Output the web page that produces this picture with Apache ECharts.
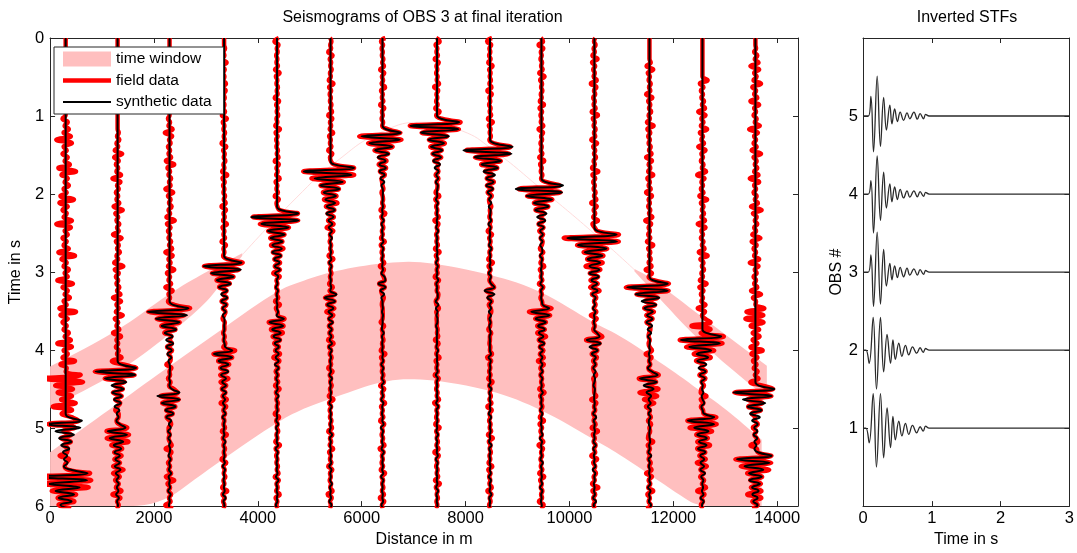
<!DOCTYPE html>
<html><head><meta charset="utf-8">
<script src="https://cdn.jsdelivr.net/npm/echarts@6/dist/echarts.min.js"></script>
<style>html,body{margin:0;padding:0;background:#fff}#c{width:1077px;height:553px}</style>
</head><body><div id="c"></div>
<script>
// ---------- seismogram data (left panel) ----------
const offsets   = [300,1300,2300,3350,4370,5400,6400,7450,8470,9460,10480,11540,12560,13580];
const ev1Time   = [4.86,4.18,3.44,2.84,2.21,1.61,1.16,1.04,1.34,1.84,2.46,3.12,3.77,4.47];
const ev1Syn    = [380,430,450,420,480,500,430,520,520,500,500,450,430,440];
const ev1Field  = [400,450,480,430,460,520,470,540,500,480,530,470,450,430];
const ev2Time   = [5.55,4.93,4.48,3.96,3.56,3.26,3.06,3.28,3.16,3.4,3.78,4.28,4.8,5.33];
const ev2Syn    = [520,200,260,170,140,100,80,40,110,170,160,190,250,330];
const ev2Field  = [540,220,270,180,150,90,70,30,100,180,190,230,280,350];
const ev3Time   = [4.28,2.3,1.8,2.0,2.0,2.0,2.0,2.0,2.0,2.0,2.0,4.45,3.62,3.42];
const ev3Field  = [270,0,0,0,0,0,0,0,0,0,0,120,220,160];
const muteEnd   = [1.0,1.2,1.0,0.1,0,0,0,0,0,0,0,0.3,0.5,0.1];
const fieldNoise= [200,110,100,60,55,55,55,55,55,60,75,80,100,120];
const synNoise  = [35,35,35,30,30,30,30,25,30,30,35,35,40,40];
const wavelet   = [0.15,0.85,-1.0,0.8,-0.6,0.45,-0.35,0.3,-0.25,0.2,-0.18,0.16,-0.14,0.12,-0.1,0.09,-0.07,0.06,-0.05,0.04];
const noise     = [0.2,-0.3,0.9,-0.5,0.1,-0.2,0.3,-0.8,0.6,-0.2,0.1,-0.3,0.2,-0.1,0.7,-1.0,0.4,-0.2,0.1,-0.3,0.2,-0.6,0.9,-0.3,0.2,-0.1,0.3,-0.2,0.5,-0.9,0.6,-0.2,0.1,-0.3,0.2,-0.1,0.4,-0.7,1.0,-0.4,0.2,-0.1,0.3,-0.2,0.1,-0.5,0.8,-0.6,0.2,-0.3,0.1,-0.2,0.6,-0.9,0.5,-0.1,0.2,-0.3,0.1,-0.2,0.3,-0.7,0.9,-0.4,0.1,-0.2,0.3,-0.1,0.2,-0.8,0.7,-0.3,0.2,-0.1,0.4,-0.2,0.1,-0.6,1.0,-0.5,0.2,-0.3,0.1,-0.2,0.3,-0.1,0.5,-0.8,0.6,-0.2];
const sampleDt  = 0.045;
const sampleN   = 134;

// ---------- time-window bands ----------
const bandALX   = [0,1300,2300,3000,3350,3700];
const bandALTop = [4.21,3.76,3.27,3.0,2.88,2.76];
const bandALBot = [4.74,4.3,3.8,3.4,3.1,2.79];
const bandARX   = [11250,11540,12560,13580,13800];
const bandARTop = [2.96,3.06,3.58,4.09,4.2];
const bandARBot = [2.99,3.2,3.93,4.5,4.6];
const bandBX    = [0,1000,2100,3000,4350,4870,5500,6400,7200,8500,9464,10480,11000,12145,12465,13000,13700];
const bandBTop  = [5.31,4.83,4.3,3.88,3.24,3.11,2.98,2.88,2.86,3.03,3.24,3.66,3.82,4.34,4.5,4.75,5.15];
const bandBBot  = [6,6,6,5.55,4.93,4.75,4.6,4.39,4.36,4.51,4.76,5.15,5.35,5.87,6,6,6];
const faintX    = [3700,4738,5500,6400,7200,7930,8500,9520,10500,11250];
const faintT    = [2.78,2.05,1.59,1.2,1.08,1.19,1.42,1.97,2.52,2.97];

// ---------- STFs (right panel) ----------
const stfTimesA = [0,0.077,0.115,0.153,0.206,0.254,0.30,0.34,0.39,0.42,0.46,0.50,0.54,0.59,0.64,0.68,0.74,0.79,0.83,0.88,0.91,0.96,3.0];
const stfTimesB = [0,0.043,0.09,0.148,0.196,0.254,0.30,0.35,0.40,0.435,0.47,0.52,0.565,0.617,0.665,0.72,0.78,0.83,0.875,0.91,0.96,3.0];
const stf1 = [0,0,-0.19,0.44,-0.5,0.44,-0.38,0.26,-0.25,0.15,-0.15,0.09,-0.1,0.06,-0.08,0.034,-0.06,0.017,-0.04,0.025,0,0];
const stf2 = [0,0,-0.17,0.42,-0.5,0.42,-0.28,0.2,-0.17,0.13,-0.12,0.09,-0.08,0.06,-0.06,0.04,-0.04,0.03,-0.03,0.02,0,0];
const stf3 = [0,0,0.22,-0.44,0.51,-0.41,0.29,-0.18,0.11,-0.1,0.08,-0.07,0.06,-0.06,0.05,-0.04,0.04,-0.04,0.03,-0.03,0.02,0,0];
const stf4 = [0,0,0.17,-0.5,0.49,-0.34,0.28,-0.18,0.13,-0.1,0.09,-0.07,0.06,-0.05,0.04,-0.04,0.04,-0.035,0.03,-0.03,0.02,0,0];
const stf5 = [0,0,0.25,-0.46,0.51,-0.39,0.24,-0.18,0.14,-0.1,0.09,-0.07,0.05,-0.055,0.04,-0.035,0.05,-0.04,0.03,-0.035,0.02,0,0];

const xTicksL = [0,2000,4000,6000,8000,10000,12000,14000];
const yTicksL = [0,1,2,3,4,5,6];
const xTicksR = [0,1,2,3];
const yTicksR = [1,2,3,4,5];

// ---------- build ----------
const FONT = 'Liberation Sans, Arial, Helvetica, sans-serif';
const AX = '#262626';
const TICKFS = 16.5, NAMEFS = 16;
function trace(i, field) {
  const evs = [[ev1Time[i], field ? ev1Field[i] : ev1Syn[i]], [ev2Time[i], field ? ev2Field[i] : ev2Syn[i]]];
  if (field) evs.push([ev3Time[i], ev3Field[i]]);
  const noiseStart = field ? muteEnd[i] : ev1Time[i];
  const pts = [];
  for (let k = 0; k <= sampleN; k++) {
    const t = k * sampleDt;
    let a = 0;
    evs.forEach(([et, ea]) => {
      const j = k - Math.round(et / sampleDt);
      if (j >= 0 && j < wavelet.length) a += ea * wavelet[j];
    });
    if (t >= noiseStart) {
      const idx = (k + i * (field ? 13 : 29)) % noise.length;
      a += noise[idx] * (field ? fieldNoise[i] : synNoise[i]);
    }
    pts.push([offsets[i] + a, t]);
  }
  return pts;
}
function band(xs, tops, bots) {
  return {
    type: 'custom', name: 'time window', xAxisIndex: 0, yAxisIndex: 0, clip: true, silent: true, z: 1,
    itemStyle: { color: '#ffbfbf' },
    data: [[xs[0], tops[0]]],
    renderItem(params, api) {
      const top = xs.map((x, i) => api.coord([x, tops[i]]));
      const bot = xs.map((x, i) => api.coord([x, bots[i]])).reverse();
      // smooth each edge separately with a quadratic midpoint spline
      function smoothEdge(p) {
        if (p.length < 3) return p.slice();
        const out = [p[0]];
        for (let i = 1; i < p.length - 1; i++) {
          const a = [(p[i - 1][0] + p[i][0]) / 2, (p[i - 1][1] + p[i][1]) / 2];
          const b = [(p[i][0] + p[i + 1][0]) / 2, (p[i][1] + p[i + 1][1]) / 2];
          for (let s = 0; s <= 8; s++) {
            const u = s / 8;
            out.push([(1 - u) * (1 - u) * a[0] + 2 * u * (1 - u) * p[i][0] + u * u * b[0],
                      (1 - u) * (1 - u) * a[1] + 2 * u * (1 - u) * p[i][1] + u * u * b[1]]);
          }
        }
        out.push(p[p.length - 1]);
        return out;
      }
      const pts = smoothEdge(top).concat(smoothEdge(bot));
      return { type: 'polygon', shape: { points: pts }, style: { fill: '#ffbfbf' } };
    }
  };
}
const series = [
  band(bandBX, bandBTop, bandBBot),
  band(bandALX, bandALTop, bandALBot),
  band(bandARX, bandARTop, bandARBot),
  { type: 'line', name: 'faint', xAxisIndex: 0, yAxisIndex: 0, smooth: true, symbol: 'none', silent: true, z: 1,
    lineStyle: { color: '#ffdcdc', width: 1 }, data: faintX.map((x, i) => [x, faintT[i]]) }
];
offsets.forEach((o, i) => series.push({
  type: 'line', name: 'field data', xAxisIndex: 0, yAxisIndex: 0, smooth: true, symbol: 'none', silent: true, z: 2,
  itemStyle: { color: '#ff0000' }, lineStyle: { color: '#ff0000', width: 4.5 }, data: trace(i, true)
}));
offsets.forEach((o, i) => series.push({
  type: 'line', name: 'synthetic data', xAxisIndex: 0, yAxisIndex: 0, smooth: true, symbol: 'none', silent: true, z: 3,
  itemStyle: { color: '#000' }, lineStyle: { color: '#000', width: 2 }, data: trace(i, false)
}));
[[stf1, stfTimesB, 1], [stf2, stfTimesB, 2], [stf3, stfTimesA, 3], [stf4, stfTimesA, 4], [stf5, stfTimesA, 5]].forEach(([v, ts, obs]) => {
  series.push({ type: 'line', name: 'stf' + obs, xAxisIndex: 2, yAxisIndex: 2, smooth: 0.4, symbol: 'none', silent: true,
    lineStyle: { color: '#2a2a2a', width: 1.3 }, data: ts.map((t, k) => [t, obs + v[k]]) });
});

function lbl(extra) {
  return Object.assign({ color: '#000', fontSize: TICKFS, fontFamily: FONT, formatter: v => String(v) }, extra);
}
function axis(extra) {
  return Object.assign({
    type: 'value',
    axisLine: { show: true, onZero: false, lineStyle: { color: AX, width: 1 } },
    splitLine: { show: false },
    nameTextStyle: { color: '#000', fontSize: NAMEFS, fontFamily: FONT }
  }, extra);
}
function ticks(vals) { return { show: true, inside: true, length: 5, customValues: vals, lineStyle: { color: AX } }; }
const option = {
  animation: false,
  backgroundColor: '#fff',
  grid: [
    { left: 47, top: 38, width: 751, height: 473 },
    { left: 863, top: 38, width: 208, height: 472 }
  ],
  xAxis: [
    axis({ gridIndex: 0, min: 0, max: 14400, position: 'bottom', name: 'Distance in m', nameLocation: 'middle', nameGap: 22,
      axisTick: ticks(xTicksL), axisLabel: lbl({ customValues: xTicksL, margin: 4 }) }),
    axis({ gridIndex: 0, min: 0, max: 14400, position: 'top', axisTick: ticks(xTicksL), axisLabel: { show: false } }),
    axis({ gridIndex: 1, min: 0, max: 3, interval: 1, position: 'bottom', name: 'Time in s', nameLocation: 'middle', nameGap: 22,
      axisTick: ticks(xTicksR), axisLabel: lbl({ customValues: xTicksR, margin: 4 }) }),
    axis({ gridIndex: 1, min: 0, max: 3, interval: 1, position: 'top', axisTick: ticks(xTicksR), axisLabel: { show: false } })
  ],
  yAxis: [
    axis({ gridIndex: 0, min: 0, max: 6, interval: 1, inverse: true, position: 'left', name: 'Time in s', nameLocation: 'middle', nameGap: 21, nameRotate: 90,
      axisTick: ticks(yTicksL), axisLabel: lbl({ customValues: yTicksL, margin: 6 }) }),
    axis({ gridIndex: 0, min: 0, max: 6, interval: 1, inverse: true, position: 'right', axisTick: ticks(yTicksL), axisLabel: { show: false } }),
    axis({ gridIndex: 1, min: 0, max: 6, interval: 1, position: 'left', name: 'OBS #', nameLocation: 'middle', nameGap: 11, nameRotate: 90,
      axisTick: ticks(yTicksR), axisLabel: lbl({ customValues: yTicksR, margin: 5 }) }),
    axis({ gridIndex: 1, min: 0, max: 6, interval: 1, position: 'right', axisTick: ticks(yTicksR), axisLabel: { show: false } })
  ],
  legend: {
    left: 54, top: 47, orient: 'vertical', z: 20,
    padding: [4, 12, 4, 9], itemWidth: 48, itemHeight: 15, itemGap: 5.5,
    backgroundColor: '#fff', borderColor: AX, borderWidth: 1, borderRadius: 0,
    textStyle: { color: '#000', fontSize: 15.5, fontFamily: FONT },
    selectedMode: false,
    data: [
      { name: 'time window', icon: 'rect', itemStyle: { color: '#ffbfbf' } },
      { name: 'field data', icon: 'path://M0,0H48V4.5H0Z', itemStyle: { color: '#ff0000' } },
      { name: 'synthetic data', icon: 'path://M0,0H48V2H0Z', itemStyle: { color: '#000' } }
    ]
  },
  graphic: [
    { type: 'text', x: 422.5, y: 18, style: { text: 'Seismograms of OBS 3 at final iteration', textAlign: 'center', textVerticalAlign: 'middle', fill: '#000', fontSize: NAMEFS, fontFamily: FONT } },
    { type: 'text', x: 967, y: 18, style: { text: 'Inverted STFs', textAlign: 'center', textVerticalAlign: 'middle', fill: '#000', fontSize: NAMEFS, fontFamily: FONT } }
  ],
  series
};
const chart = echarts.init(document.getElementById('c'), null, { renderer: 'canvas' });
chart.setOption(option);
</script></body></html>
